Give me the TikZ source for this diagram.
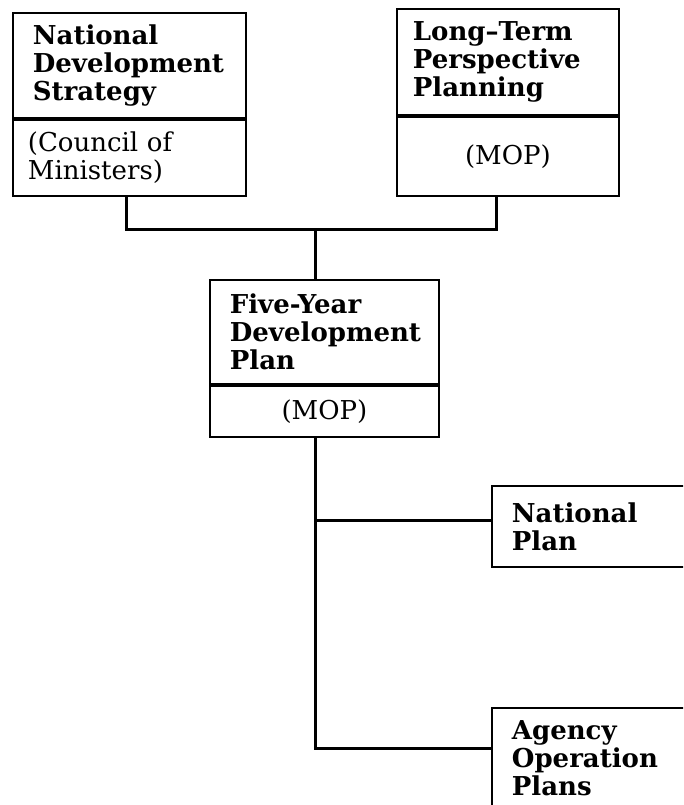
\documentclass[tikz,border=0pt]{standalone}
\usepackage{fontspec}
\setmainfont{DejaVu Serif}
\usetikzlibrary{positioning}

\begin{document}
\begin{tikzpicture}[
    x=1pt, y=-1pt,
    font=\fontsize{26}{28}\selectfont,
    headbox/.style={rectangle, draw=black, line width=1.8pt, anchor=north west,
      inner xsep=20pt, inner ysep=0pt, align=left, font=\bfseries\fontsize{26}{28}\selectfont},
    orgbox/.style={rectangle, draw=black, line width=1.8pt, anchor=north west,
      inner xsep=15pt, inner ysep=0pt, align=left},
    link/.style={line width=3pt},
  ]
  \useasboundingbox (0,0) rectangle (683,805);
  \clip (0,0) rectangle (683,805);

  % upper row
  \node[headbox, text width=193pt, minimum height=105pt] (nds) at (12,12)
    {National\\Development\\Strategy};
  \node[orgbox, text width=203pt, minimum height=76pt] (ndsorg) at (nds.south west)
    {(Council of\\Ministers)};

  \node[headbox, inner xsep=16pt, text width=190pt, minimum height=106pt] (ltp) at (396,8)
    {Long--Term\\Perspective\\Planning};
  \node[orgbox, align=center, text width=192pt, minimum height=79pt] (ltporg) at (ltp.south west)
    {(MOP)};

  % plan
  \node[headbox, text width=189pt, minimum height=104pt] (fyp) at (209,279)
    {Five-Year\\Development\\Plan};
  \node[orgbox, align=center, text width=199pt, minimum height=51pt] (fyporg) at (fyp.south west)
    {(MOP)};

  % lower row
  \node[headbox, text width=220pt, minimum height=81pt] (np) at (491,485)
    {National\\Plan};
  \node[headbox, text width=220pt, minimum height=100pt] (aop) at (491,707)
    {Agency\\Operation\\Plans};

  \coordinate (topjoin) at (315,229);
  \coordinate (midjoin) at (315,520);
  \coordinate (lowjoin) at (315,748);

  \draw[link] ([xshift=-3pt]ndsorg.south) |- (topjoin) -| ([xshift=-11pt]ltporg.south);
  \draw[link] (topjoin) -- (topjoin |- fyp.north);
  \draw[link] (fyporg.south -| lowjoin) -- (lowjoin) -- (lowjoin -| aop.west);
  \draw[link] (midjoin) -- (midjoin -| np.west);
\end{tikzpicture}
\end{document}
